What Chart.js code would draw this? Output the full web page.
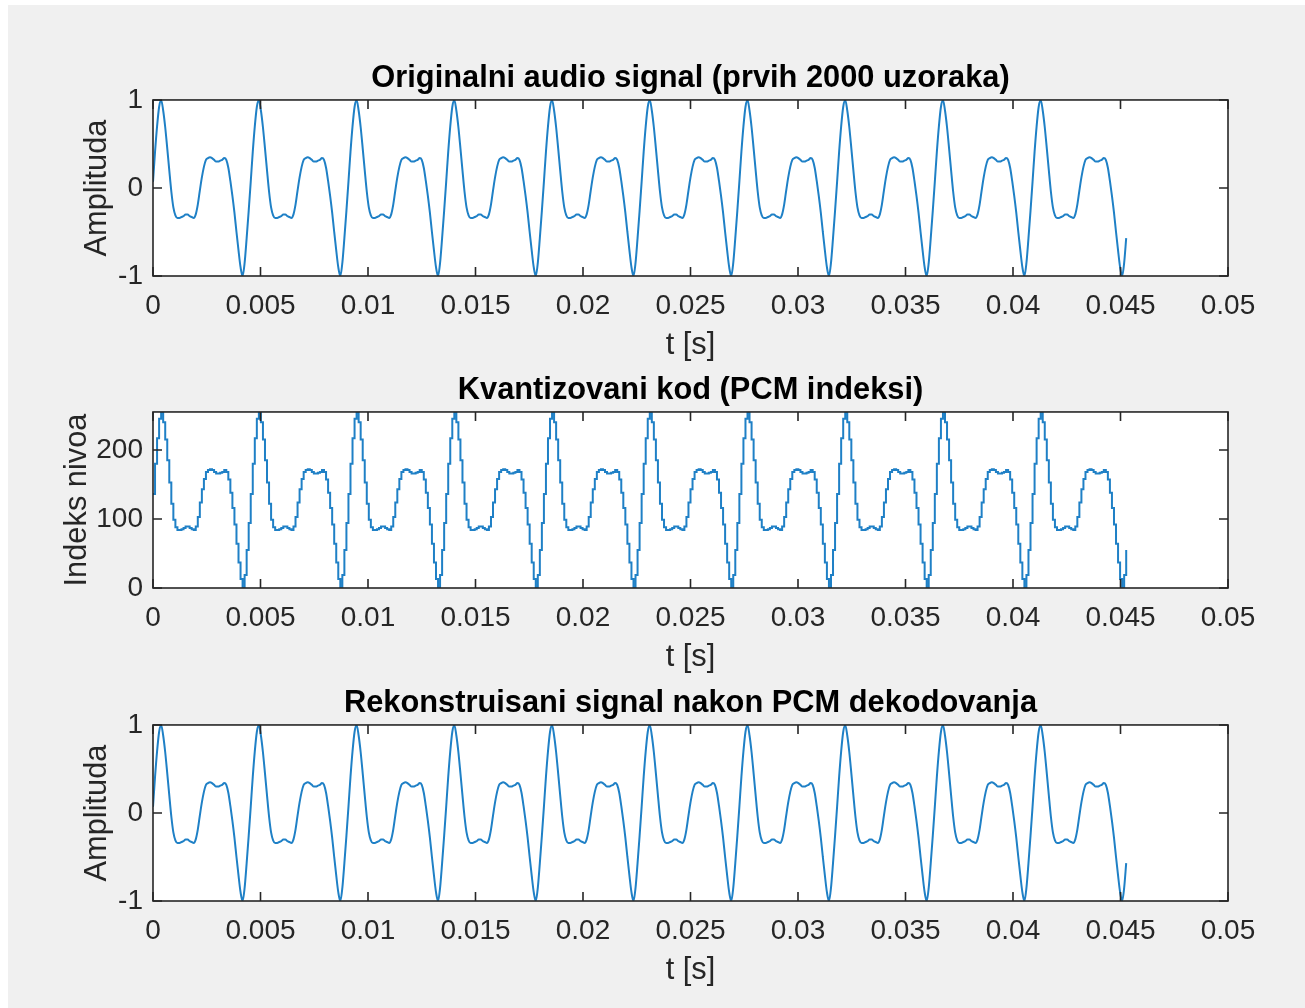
<!DOCTYPE html>
<html>
<head>
<meta charset="utf-8">
<script src="https://cdn.jsdelivr.net/npm/chart.js@4/dist/chart.umd.min.js"></script>
<style>
  html, body { margin: 0; padding: 0; background: #ffffff; width: 1305px; height: 1008px; overflow: hidden; }
  #bg { position: absolute; left: 8px; top: 5px; right: 0; bottom: 0; background: #f0f0f0; }
  canvas { position: absolute; left: 0; }
</style>
</head>
<body>
<div id="bg"></div>
<canvas id="c1" width="1305" height="326" style="top:40px"></canvas>
<canvas id="c2" width="1305" height="326" style="top:352px"></canvas>
<canvas id="c3" width="1305" height="326" style="top:665px"></canvas>
<script>
// ---- Data ----
// Read-out grid: one value every 1/10560 s (48 readings per 220 Hz cycle)
const sampleStep = 1 / 10560;

const titles = [
  'Originalni audio signal (prvih 2000 uzoraka)',
  'Kvantizovani kod (PCM indeksi)',
  'Rekonstruisani signal nakon PCM dekodovanja'
];
const yLabels = ['Amplituda', 'Indeks nivoa', 'Amplituda'];
const xLabel = 't [s]';

const xTickVals = [0, 0.005, 0.01, 0.015, 0.02, 0.025, 0.03, 0.035, 0.04, 0.045, 0.05];
const xTickLabels = ['0', '0.005', '0.01', '0.015', '0.02', '0.025', '0.03', '0.035', '0.04', '0.045', '0.05'];
const ampTickVals = [-1, 0, 1];
const codeTickVals = [0, 100, 200];

// Panel 1: original signal amplitude
const origAmp = [
  0.07,0.41,0.70,0.92,1.00,0.88,0.69,0.45,0.20,-0.04,-0.22,-0.31,-0.34,-0.34,-0.33,-0.32,-0.30,-0.30,-0.32,-0.33,-0.34,-0.30,-0.19,-0.03,0.12,0.24,0.32,0.34,0.35,0.34,0.32,0.30,0.30,0.31,0.32,0.34,0.32,0.23,0.08,-0.09,-0.28,-0.50,-0.71,-0.90,-1.00,-0.85,-0.57,-0.26,
  0.07,0.41,0.70,0.92,1.00,0.88,0.69,0.45,0.20,-0.04,-0.22,-0.31,-0.34,-0.34,-0.33,-0.32,-0.30,-0.30,-0.32,-0.33,-0.34,-0.30,-0.19,-0.03,0.12,0.24,0.32,0.34,0.35,0.34,0.32,0.30,0.30,0.31,0.32,0.34,0.32,0.23,0.08,-0.09,-0.28,-0.50,-0.71,-0.90,-1.00,-0.85,-0.57,-0.26,
  0.07,0.41,0.70,0.92,1.00,0.88,0.69,0.45,0.20,-0.04,-0.22,-0.31,-0.34,-0.34,-0.33,-0.32,-0.30,-0.30,-0.32,-0.33,-0.34,-0.30,-0.19,-0.03,0.12,0.24,0.32,0.34,0.35,0.34,0.32,0.30,0.30,0.31,0.32,0.34,0.32,0.23,0.08,-0.09,-0.28,-0.50,-0.71,-0.90,-1.00,-0.85,-0.57,-0.26,
  0.07,0.41,0.70,0.92,1.00,0.88,0.69,0.45,0.20,-0.04,-0.22,-0.31,-0.34,-0.34,-0.33,-0.32,-0.30,-0.30,-0.32,-0.33,-0.34,-0.30,-0.19,-0.03,0.12,0.24,0.32,0.34,0.35,0.34,0.32,0.30,0.30,0.31,0.32,0.34,0.32,0.23,0.08,-0.09,-0.28,-0.50,-0.71,-0.90,-1.00,-0.85,-0.57,-0.26,
  0.07,0.41,0.70,0.92,1.00,0.88,0.69,0.45,0.20,-0.04,-0.22,-0.31,-0.34,-0.34,-0.33,-0.32,-0.30,-0.30,-0.32,-0.33,-0.34,-0.30,-0.19,-0.03,0.12,0.24,0.32,0.34,0.35,0.34,0.32,0.30,0.30,0.31,0.32,0.34,0.32,0.23,0.08,-0.09,-0.28,-0.50,-0.71,-0.90,-1.00,-0.85,-0.57,-0.26,
  0.07,0.41,0.70,0.92,1.00,0.88,0.69,0.45,0.20,-0.04,-0.22,-0.31,-0.34,-0.34,-0.33,-0.32,-0.30,-0.30,-0.32,-0.33,-0.34,-0.30,-0.19,-0.03,0.12,0.24,0.32,0.34,0.35,0.34,0.32,0.30,0.30,0.31,0.32,0.34,0.32,0.23,0.08,-0.09,-0.28,-0.50,-0.71,-0.90,-1.00,-0.85,-0.57,-0.26,
  0.07,0.41,0.70,0.92,1.00,0.88,0.69,0.45,0.20,-0.04,-0.22,-0.31,-0.34,-0.34,-0.33,-0.32,-0.30,-0.30,-0.32,-0.33,-0.34,-0.30,-0.19,-0.03,0.12,0.24,0.32,0.34,0.35,0.34,0.32,0.30,0.30,0.31,0.32,0.34,0.32,0.23,0.08,-0.09,-0.28,-0.50,-0.71,-0.90,-1.00,-0.85,-0.57,-0.26,
  0.07,0.41,0.70,0.92,1.00,0.88,0.69,0.45,0.20,-0.04,-0.22,-0.31,-0.34,-0.34,-0.33,-0.32,-0.30,-0.30,-0.32,-0.33,-0.34,-0.30,-0.19,-0.03,0.12,0.24,0.32,0.34,0.35,0.34,0.32,0.30,0.30,0.31,0.32,0.34,0.32,0.23,0.08,-0.09,-0.28,-0.50,-0.71,-0.90,-1.00,-0.85,-0.57,-0.26,
  0.07,0.41,0.70,0.92,1.00,0.88,0.69,0.45,0.20,-0.04,-0.22,-0.31,-0.34,-0.34,-0.33,-0.32,-0.30,-0.30,-0.32,-0.33,-0.34,-0.30,-0.19,-0.03,0.12,0.24,0.32,0.34,0.35,0.34,0.32,0.30,0.30,0.31,0.32,0.34,0.32,0.23,0.08,-0.09,-0.28,-0.50,-0.71,-0.90,-1.00,-0.85,-0.57,-0.26,
  0.07,0.41,0.70,0.92,1.00,0.88,0.69,0.45,0.20,-0.04,-0.22,-0.31,-0.34,-0.34,-0.33,-0.32,-0.30,-0.30,-0.32,-0.33,-0.34,-0.30,-0.19,-0.03,0.12,0.24,0.32,0.34,0.35,0.34,0.32,0.30,0.30,0.31,0.32,0.34,0.32,0.23,0.08,-0.09,-0.28,-0.50,-0.71,-0.90,-1.00,-0.85,-0.57
];

// Panel 2: quantized PCM code (0..255)
const pcmCode = [
  136,180,217,245,255,240,215,185,153,122,99,88,84,84,85,87,89,89,87,85,84,89,103,124,143,158,168,171,172,171,168,166,166,167,168,171,168,157,138,116,92,64,37,13,0,19,55,94,
  136,180,217,245,255,240,215,185,153,122,99,88,84,84,85,87,89,89,87,85,84,89,103,124,143,158,168,171,172,171,168,166,166,167,168,171,168,157,138,116,92,64,37,13,0,19,55,94,
  136,180,217,245,255,240,215,185,153,122,99,88,84,84,85,87,89,89,87,85,84,89,103,124,143,158,168,171,172,171,168,166,166,167,168,171,168,157,138,116,92,64,37,13,0,19,55,94,
  136,180,217,245,255,240,215,185,153,122,99,88,84,84,85,87,89,89,87,85,84,89,103,124,143,158,168,171,172,171,168,166,166,167,168,171,168,157,138,116,92,64,37,13,0,19,55,94,
  136,180,217,245,255,240,215,185,153,122,99,88,84,84,85,87,89,89,87,85,84,89,103,124,143,158,168,171,172,171,168,166,166,167,168,171,168,157,138,116,92,64,37,13,0,19,55,94,
  136,180,217,245,255,240,215,185,153,122,99,88,84,84,85,87,89,89,87,85,84,89,103,124,143,158,168,171,172,171,168,166,166,167,168,171,168,157,138,116,92,64,37,13,0,19,55,94,
  136,180,217,245,255,240,215,185,153,122,99,88,84,84,85,87,89,89,87,85,84,89,103,124,143,158,168,171,172,171,168,166,166,167,168,171,168,157,138,116,92,64,37,13,0,19,55,94,
  136,180,217,245,255,240,215,185,153,122,99,88,84,84,85,87,89,89,87,85,84,89,103,124,143,158,168,171,172,171,168,166,166,167,168,171,168,157,138,116,92,64,37,13,0,19,55,94,
  136,180,217,245,255,240,215,185,153,122,99,88,84,84,85,87,89,89,87,85,84,89,103,124,143,158,168,171,172,171,168,166,166,167,168,171,168,157,138,116,92,64,37,13,0,19,55,94,
  136,180,217,245,255,240,215,185,153,122,99,88,84,84,85,87,89,89,87,85,84,89,103,124,143,158,168,171,172,171,168,166,166,167,168,171,168,157,138,116,92,64,37,13,0,19,55
];

// Panel 3: reconstructed amplitude
const reconAmp = [
  0.07,0.41,0.70,0.92,1.00,0.88,0.69,0.45,0.20,-0.04,-0.22,-0.31,-0.34,-0.34,-0.33,-0.32,-0.30,-0.30,-0.32,-0.33,-0.34,-0.30,-0.19,-0.03,0.12,0.24,0.32,0.34,0.35,0.34,0.32,0.30,0.30,0.31,0.32,0.34,0.32,0.23,0.08,-0.09,-0.28,-0.50,-0.71,-0.90,-1.00,-0.85,-0.57,-0.26,
  0.07,0.41,0.70,0.92,1.00,0.88,0.69,0.45,0.20,-0.04,-0.22,-0.31,-0.34,-0.34,-0.33,-0.32,-0.30,-0.30,-0.32,-0.33,-0.34,-0.30,-0.19,-0.03,0.12,0.24,0.32,0.34,0.35,0.34,0.32,0.30,0.30,0.31,0.32,0.34,0.32,0.23,0.08,-0.09,-0.28,-0.50,-0.71,-0.90,-1.00,-0.85,-0.57,-0.26,
  0.07,0.41,0.70,0.92,1.00,0.88,0.69,0.45,0.20,-0.04,-0.22,-0.31,-0.34,-0.34,-0.33,-0.32,-0.30,-0.30,-0.32,-0.33,-0.34,-0.30,-0.19,-0.03,0.12,0.24,0.32,0.34,0.35,0.34,0.32,0.30,0.30,0.31,0.32,0.34,0.32,0.23,0.08,-0.09,-0.28,-0.50,-0.71,-0.90,-1.00,-0.85,-0.57,-0.26,
  0.07,0.41,0.70,0.92,1.00,0.88,0.69,0.45,0.20,-0.04,-0.22,-0.31,-0.34,-0.34,-0.33,-0.32,-0.30,-0.30,-0.32,-0.33,-0.34,-0.30,-0.19,-0.03,0.12,0.24,0.32,0.34,0.35,0.34,0.32,0.30,0.30,0.31,0.32,0.34,0.32,0.23,0.08,-0.09,-0.28,-0.50,-0.71,-0.90,-1.00,-0.85,-0.57,-0.26,
  0.07,0.41,0.70,0.92,1.00,0.88,0.69,0.45,0.20,-0.04,-0.22,-0.31,-0.34,-0.34,-0.33,-0.32,-0.30,-0.30,-0.32,-0.33,-0.34,-0.30,-0.19,-0.03,0.12,0.24,0.32,0.34,0.35,0.34,0.32,0.30,0.30,0.31,0.32,0.34,0.32,0.23,0.08,-0.09,-0.28,-0.50,-0.71,-0.90,-1.00,-0.85,-0.57,-0.26,
  0.07,0.41,0.70,0.92,1.00,0.88,0.69,0.45,0.20,-0.04,-0.22,-0.31,-0.34,-0.34,-0.33,-0.32,-0.30,-0.30,-0.32,-0.33,-0.34,-0.30,-0.19,-0.03,0.12,0.24,0.32,0.34,0.35,0.34,0.32,0.30,0.30,0.31,0.32,0.34,0.32,0.23,0.08,-0.09,-0.28,-0.50,-0.71,-0.90,-1.00,-0.85,-0.57,-0.26,
  0.07,0.41,0.70,0.92,1.00,0.88,0.69,0.45,0.20,-0.04,-0.22,-0.31,-0.34,-0.34,-0.33,-0.32,-0.30,-0.30,-0.32,-0.33,-0.34,-0.30,-0.19,-0.03,0.12,0.24,0.32,0.34,0.35,0.34,0.32,0.30,0.30,0.31,0.32,0.34,0.32,0.23,0.08,-0.09,-0.28,-0.50,-0.71,-0.90,-1.00,-0.85,-0.57,-0.26,
  0.07,0.41,0.70,0.92,1.00,0.88,0.69,0.45,0.20,-0.04,-0.22,-0.31,-0.34,-0.34,-0.33,-0.32,-0.30,-0.30,-0.32,-0.33,-0.34,-0.30,-0.19,-0.03,0.12,0.24,0.32,0.34,0.35,0.34,0.32,0.30,0.30,0.31,0.32,0.34,0.32,0.23,0.08,-0.09,-0.28,-0.50,-0.71,-0.90,-1.00,-0.85,-0.57,-0.26,
  0.07,0.41,0.70,0.92,1.00,0.88,0.69,0.45,0.20,-0.04,-0.22,-0.31,-0.34,-0.34,-0.33,-0.32,-0.30,-0.30,-0.32,-0.33,-0.34,-0.30,-0.19,-0.03,0.12,0.24,0.32,0.34,0.35,0.34,0.32,0.30,0.30,0.31,0.32,0.34,0.32,0.23,0.08,-0.09,-0.28,-0.50,-0.71,-0.90,-1.00,-0.85,-0.57,-0.26,
  0.07,0.41,0.70,0.92,1.00,0.88,0.69,0.45,0.20,-0.04,-0.22,-0.31,-0.34,-0.34,-0.33,-0.32,-0.30,-0.30,-0.32,-0.33,-0.34,-0.30,-0.19,-0.03,0.12,0.24,0.32,0.34,0.35,0.34,0.32,0.30,0.30,0.31,0.32,0.34,0.32,0.23,0.08,-0.09,-0.28,-0.50,-0.71,-0.90,-1.00,-0.85,-0.57
];

// ---- Rendering ----
const FONT = "'Liberation Sans', Arial, Helvetica, sans-serif";
const AXIS_COLOR = '#262626';
const LINE_COLOR = '#1f80c6';

const matlabAxes = {
  id: 'matlabAxes',
  beforeDraw(chart) {
    const { ctx, chartArea: a } = chart;
    ctx.save();
    ctx.fillStyle = '#ffffff';
    ctx.fillRect(a.left, a.top, a.right - a.left, a.bottom - a.top);
    ctx.restore();
  },
  afterDraw(chart) {
    const { ctx, chartArea: a, scales: { x, y } } = chart;
    const L = 9;
    ctx.save();
    ctx.strokeStyle = AXIS_COLOR;
    ctx.lineWidth = 1.6;
    ctx.beginPath();
    x.ticks.forEach(t => {
      const px = x.getPixelForValue(t.value);
      ctx.moveTo(px, a.bottom); ctx.lineTo(px, a.bottom - L);
      ctx.moveTo(px, a.top); ctx.lineTo(px, a.top + L);
    });
    y.ticks.forEach(t => {
      const py = y.getPixelForValue(t.value);
      ctx.moveTo(a.left, py); ctx.lineTo(a.left + L, py);
      ctx.moveTo(a.right, py); ctx.lineTo(a.right - L, py);
    });
    ctx.stroke();
    ctx.strokeRect(a.left, a.top, a.right - a.left, a.bottom - a.top);
    ctx.restore();
  }
};

function toPoints(values) {
  return values.map((v, i) => ({ x: i * sampleStep, y: v }));
}

function makeChart(id, title, yLabel, values, yMin, yMax, yTicks, yTitlePad, stepped) {
  return new Chart(document.getElementById(id), {
    type: 'line',
    data: {
      datasets: [{
        data: toPoints(values),
        borderColor: LINE_COLOR,
        borderWidth: 2,
        pointRadius: 0,
        fill: false,
        stepped: stepped,
        tension: stepped ? 0 : 0.35,
        cubicInterpolationMode: 'monotone'
      }]
    },
    options: {
      responsive: false,
      animation: false,
      devicePixelRatio: 1,
      layout: { padding: { left: 0, right: 77, top: 0, bottom: 0 } },
      plugins: {
        legend: { display: false },
        tooltip: { enabled: false },
        title: {
          display: true,
          text: title,
          fullSize: false,
          color: '#000000',
          font: { family: FONT, size: 30.8, weight: 'bold', lineHeight: 1.2 },
          padding: { top: 20.5, bottom: 2.5 }
        }
      },
      scales: {
        x: {
          type: 'linear',
          min: 0, max: 0.05,
          grid: { display: false, drawTicks: false },
          border: { display: false },
          afterBuildTicks: s => { s.ticks = xTickVals.map(v => ({ value: v })); },
          afterFit: s => { s.height = 90; },
          ticks: {
            autoSkip: false, maxRotation: 0, minRotation: 0,
            padding: 13,
            color: AXIS_COLOR,
            font: { family: FONT, size: 28, lineHeight: 1.2 },
            callback: (v, i) => xTickLabels[i]
          },
          title: {
            display: true, text: xLabel, color: AXIS_COLOR,
            font: { family: FONT, size: 30.8, lineHeight: 1.2 },
            padding: { top: 0, bottom: 2.5 }
          }
        },
        y: {
          type: 'linear',
          min: yMin, max: yMax,
          grid: { display: false, drawTicks: false },
          border: { display: false },
          afterBuildTicks: s => { s.ticks = yTicks.map(v => ({ value: v })); },
          afterFit: s => { s.width = 153; },
          ticks: {
            padding: 10,
            color: AXIS_COLOR,
            font: { family: FONT, size: 28, lineHeight: 1.2 },
            callback: v => String(v)
          },
          title: {
            display: true, text: yLabel, color: AXIS_COLOR,
            font: { family: FONT, size: 30.8, lineHeight: 1.2 },
            padding: { top: yTitlePad, bottom: 0 }
          }
        }
      }
    },
    plugins: [matlabAxes]
  });
}

makeChart('c1', titles[0], yLabels[0], origAmp, -1, 1, ampTickVals, 79, false);
makeChart('c2', titles[1], yLabels[1], pcmCode, 0, 255, codeTickVals, 59, true);
makeChart('c3', titles[2], yLabels[2], reconAmp, -1, 1, ampTickVals, 79, false);
</script>
</body>
</html>
